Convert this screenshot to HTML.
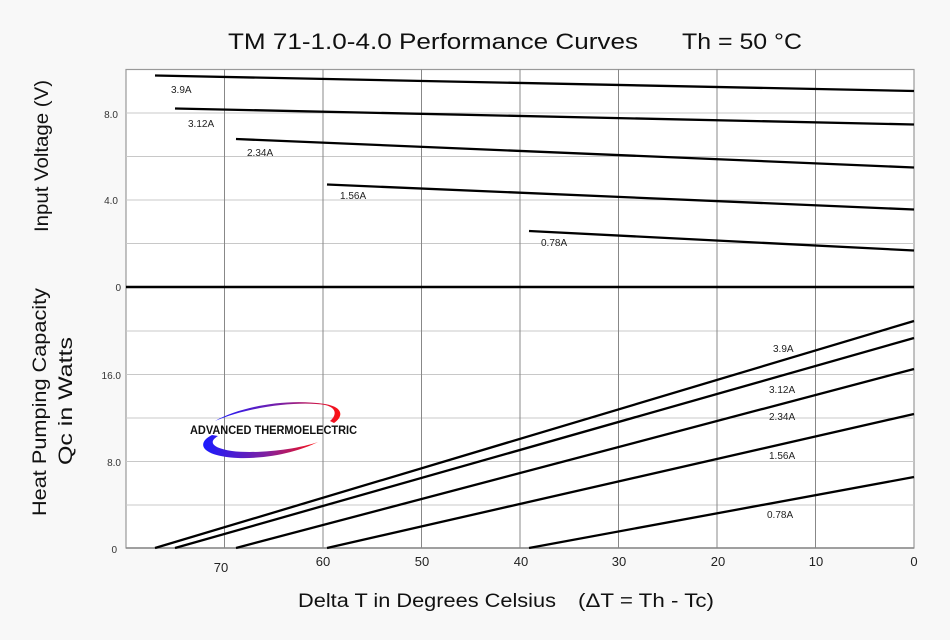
<!DOCTYPE html>
<html><head><meta charset="utf-8"><style>
html,body{margin:0;padding:0;background:#f8f8f8;}
svg{display:block;}
</style></head><body>
<svg width="950" height="640" viewBox="0 0 950 640" xmlns="http://www.w3.org/2000/svg" font-family="Liberation Sans, sans-serif">
<defs>
<linearGradient id="g" x1="0" y1="0" x2="1" y2="0">
<stop offset="0" stop-color="#1a1aff"/><stop offset="0.55" stop-color="#8020a0"/><stop offset="1" stop-color="#ff1010"/>
</linearGradient>
</defs>
<rect x="0" y="0" width="950" height="640" fill="#f8f8f8"/>
<rect x="126" y="69.5" width="788" height="478.5" fill="#fff" stroke="#999" stroke-width="1.2"/>
<g stroke="#c8c8c8" stroke-width="1">
<line x1="126" y1="113" x2="914" y2="113"/><line x1="126" y1="156.5" x2="914" y2="156.5"/>
<line x1="126" y1="200" x2="914" y2="200"/><line x1="126" y1="243.5" x2="914" y2="243.5"/>
<line x1="126" y1="331" x2="914" y2="331"/><line x1="126" y1="374.5" x2="914" y2="374.5"/>
<line x1="126" y1="418" x2="914" y2="418"/><line x1="126" y1="461.5" x2="914" y2="461.5"/>
<line x1="126" y1="505" x2="914" y2="505"/>
</g>
<g stroke="#888" stroke-width="1">
<line x1="224.5" y1="69.5" x2="224.5" y2="548"/><line x1="323" y1="69.5" x2="323" y2="548"/>
<line x1="421.5" y1="69.5" x2="421.5" y2="548"/><line x1="520" y1="69.5" x2="520" y2="548"/>
<line x1="618.5" y1="69.5" x2="618.5" y2="548"/><line x1="717" y1="69.5" x2="717" y2="548"/>
<line x1="815.5" y1="69.5" x2="815.5" y2="548"/>
</g>
<line x1="126" y1="287" x2="914" y2="287" stroke="#000" stroke-width="2.5"/>
<line x1="126" y1="548" x2="914" y2="548" stroke="#888" stroke-width="1.5"/>
<g stroke="#000" stroke-width="2.3" fill="none">
<line x1="155" y1="75.5" x2="914" y2="91"/>
<line x1="175" y1="108.5" x2="914" y2="124.5"/>
<line x1="236" y1="139" x2="914" y2="167.5"/>
<line x1="327" y1="184.5" x2="914" y2="209.5"/>
<line x1="529" y1="231" x2="914" y2="250.5"/>
<line x1="155" y1="548" x2="914" y2="321"/>
<line x1="175" y1="548" x2="914" y2="338"/>
<line x1="236" y1="548" x2="914" y2="369"/>
<line x1="327" y1="548" x2="914" y2="414"/>
<line x1="529" y1="548" x2="914" y2="477"/>
</g>
<g font-size="10" fill="#222">
<text x="171" y="93">3.9A</text><text x="188" y="127">3.12A</text>
<text x="247" y="156">2.34A</text><text x="340" y="199">1.56A</text>
<text x="541" y="246">0.78A</text>
<text x="773" y="352">3.9A</text><text x="769" y="393">3.12A</text>
<text x="769" y="420">2.34A</text><text x="769" y="459">1.56A</text>
<text x="767" y="518">0.78A</text>
</g>
<g font-size="10" fill="#333" text-anchor="end">
<text x="118" y="118">8.0</text><text x="118" y="204">4.0</text><text x="121" y="291">0</text>
<text x="121" y="379">16.0</text><text x="121" y="466">8.0</text><text x="117" y="553">0</text>
</g>
<g font-size="13" fill="#222" text-anchor="middle">
<text x="221" y="572">70</text><text x="323" y="566">60</text><text x="422" y="566">50</text>
<text x="521" y="566">40</text><text x="619" y="566">30</text><text x="718" y="566">20</text>
<text x="816" y="566">10</text><text x="914" y="566">0</text>
</g>
<text x="228" y="49" font-size="22" fill="#111" textLength="410" lengthAdjust="spacingAndGlyphs">TM 71-1.0-4.0 Performance Curves</text>
<text x="682" y="49" font-size="22" fill="#111" textLength="120" lengthAdjust="spacingAndGlyphs">Th = 50 °C</text>
<text x="298" y="607" font-size="19" fill="#111" textLength="258" lengthAdjust="spacingAndGlyphs">Delta T in Degrees Celsius</text>
<text x="578" y="607" font-size="19" fill="#111" textLength="136" lengthAdjust="spacingAndGlyphs">(ΔT = Th - Tc)</text>
<text transform="translate(48,232) rotate(-90)" font-size="19" fill="#111" textLength="152" lengthAdjust="spacingAndGlyphs">Input Voltage (V)</text>
<text transform="translate(46,516) rotate(-90)" font-size="19" fill="#111" textLength="228" lengthAdjust="spacingAndGlyphs">Heat Pumping Capacity</text>
<text transform="translate(72,465) rotate(-90)" font-size="19" fill="#111" textLength="128" lengthAdjust="spacingAndGlyphs">Qc in Watts</text>
<path d="M215,421 C250,406 300,401 325,405 C338,408 336,416 330,421 L334,423 C344,416 343,407 325,404 C285,398 240,407 215,421Z" fill="url(#g)"/>
<path d="M212,435 C196,443 200,456 238,458 C270,459 300,451 318,442 C295,450 255,454 232,451 C212,448 208,442 218,436Z" fill="url(#g)"/>
<text x="190" y="434" font-size="11.5" font-weight="bold" fill="#111" textLength="167" lengthAdjust="spacingAndGlyphs">ADVANCED THERMOELECTRIC</text>
</svg>
</body></html>
